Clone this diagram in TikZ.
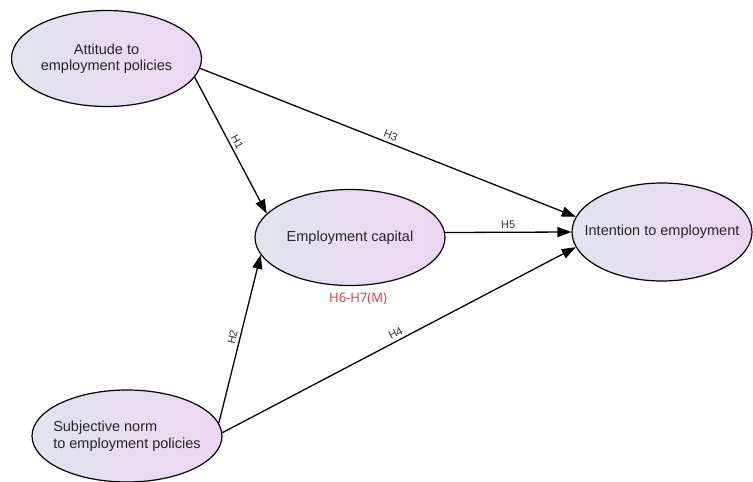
\documentclass[tikz,border=0pt]{standalone}
\usepackage{fontspec}
\setmainfont{Liberation Sans}
\newfontfamily\medfont{Open Sans}
\usetikzlibrary{shapes.geometric,arrows.meta}
\definecolor{lefttint}{RGB}{224,228,238}
\definecolor{righttint}{RGB}{237,214,242}
\definecolor{medred}{RGB}{236,50,50}
\tikzset{
  construct/.style={ellipse, draw, line width=1.2pt, left color=lefttint,
    right color=righttint, minimum width=190pt, minimum height=96pt,
    inner xsep=-24pt, inner ysep=0pt, text=black!85,
    font=\fontsize{14.5}{16.5}\selectfont},
  hyp/.style={draw, line width=1.3pt, -{Triangle[length=14pt,width=10pt]}},
  hlabel/.style={midway, sloped, above, inner sep=3pt, text=black!80,
    font=\fontsize{11}{13}\selectfont}
}
\begin{document}
\begin{tikzpicture}[x=1pt,y=-1pt]
  \useasboundingbox (0,0) rectangle (753,482);
  \node[construct, align=center] (att) at (106.5,58.5) {Attitude to\\employment policies};
  \node[construct] (cap) at (350,237.5) {Employment capital};
  \node[construct, minimum width=180pt, minimum height=98pt] (int) at (662,232) {Intention to employment};
  \node[construct, align=left, minimum height=92pt] (sub) at (127,436) {Subjective norm\\to employment policies};
  \node[text=medred, font=\medfont\fontsize{13}{15}\selectfont] (med) at (358,299) {H6-H7(M)};
  % paths
  \draw[hyp] (att.-12) -- node[hlabel] {H1} (cap.164);
  \draw[hyp] (att.-6) -- node[hlabel] {H3} (int.170);
  \draw[hyp] (cap.3) -- node[hlabel] {H5} (int.180);
  \draw[hyp] (sub.8) -- node[hlabel] {H2} (cap.191);
  \draw[hyp] (sub.2) -- node[hlabel] {H4} (int.190);
\end{tikzpicture}
\end{document}
